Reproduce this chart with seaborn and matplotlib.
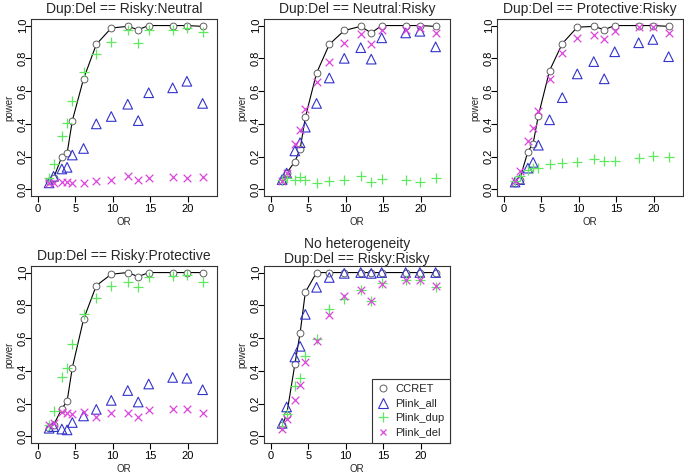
import numpy as np
import pandas as pd
import seaborn as sns
import matplotlib
matplotlib.use("Agg")
import matplotlib.pyplot as plt
from matplotlib.lines import Line2D

# ---------------- data ----------------
OR = [1.5, 2.1, 3.2, 3.9, 4.6, 6.1, 7.8, 9.8, 12.0, 13.4, 14.8, 18.0, 19.9, 22.0]

titles = ["Dup:Del == Risky:Neutral",
          "Dup:Del == Neutral:Risky",
          "Dup:Del == Protective:Risky",
          "Dup:Del == Risky:Protective",
          "No heterogeneity\nDup:Del == Risky:Risky"]

methods = ["CCRET", "Plink_all", "Plink_dup", "Plink_del"]

# Panel 1: Risky:Neutral
ccret_1 = [0.05, 0.07, 0.20, 0.22, 0.42, 0.675, 0.885, 0.985, 0.995, 0.975, 1.0, 1.0, 1.0, 0.995]
all_1   = [0.04, 0.08, 0.125, 0.135, 0.21, 0.25, 0.40, 0.445, 0.52, 0.42, 0.59, 0.62, 0.66, 0.525]
dup_1   = [0.07, 0.155, 0.325, 0.405, 0.54, 0.715, 0.825, 0.90, 0.97, 0.895, 0.97, 0.975, 0.985, 0.96]
del_1   = [0.04, 0.04, 0.045, 0.045, 0.04, 0.04, 0.05, 0.06, 0.085, 0.06, 0.07, 0.075, 0.07, 0.075]

# Panel 2: Neutral:Risky
ccret_2 = [0.05, 0.10, 0.17, 0.245, 0.44, 0.71, 0.885, 0.97, 0.995, 0.955, 1.0, 1.0, 1.0, 0.995]
all_2   = [0.06, 0.10, 0.235, 0.285, 0.38, 0.525, 0.68, 0.80, 0.865, 0.795, 0.925, 0.955, 0.965, 0.87]
dup_2   = [0.06, 0.07, 0.06, 0.075, 0.055, 0.04, 0.05, 0.055, 0.08, 0.045, 0.065, 0.06, 0.045, 0.07]
del_2   = [0.05, 0.10, 0.28, 0.36, 0.49, 0.655, 0.775, 0.895, 0.95, 0.885, 0.975, 0.975, 0.985, 0.955]

# Panel 3: Protective:Risky
ccret_3 = [0.04, 0.06, 0.23, 0.28, 0.45, 0.725, 0.89, 0.99, 0.995, 0.975, 1.0, 1.0, 1.0, 0.995]
all_3   = [0.045, 0.06, 0.13, 0.165, 0.27, 0.425, 0.56, 0.705, 0.78, 0.675, 0.84, 0.895, 0.915, 0.81]
dup_3   = [0.05, 0.08, 0.12, 0.13, 0.13, 0.155, 0.16, 0.165, 0.185, 0.175, 0.175, 0.19, 0.205, 0.20]
del_3   = [0.05, 0.115, 0.295, 0.375, 0.48, 0.675, 0.835, 0.925, 0.945, 0.915, 0.965, 0.99, 0.99, 0.955]

# Panel 4: Risky:Protective
ccret_4 = [0.05, 0.07, 0.17, 0.215, 0.42, 0.715, 0.92, 0.99, 1.0, 0.975, 1.0, 1.0, 1.0, 1.0]
all_4   = [0.05, 0.06, 0.045, 0.04, 0.085, 0.125, 0.165, 0.22, 0.28, 0.21, 0.32, 0.36, 0.355, 0.285]
dup_4   = [0.07, 0.155, 0.365, 0.415, 0.565, 0.75, 0.845, 0.92, 0.94, 0.91, 0.975, 0.98, 0.985, 0.945]
del_4   = [0.07, 0.085, 0.15, 0.14, 0.135, 0.15, 0.12, 0.145, 0.14, 0.12, 0.16, 0.165, 0.17, 0.145]

# Panel 5: Risky:Risky (no heterogeneity)
ccret_5 = [0.07, 0.13, 0.44, 0.63, 0.88, 1.0, 1.0, 1.0, 1.0, 1.0, 1.0, 1.0, 1.0, 1.0]
all_5   = [0.08, 0.18, 0.485, 0.55, 0.745, 0.91, 0.97, 0.995, 1.0, 0.995, 1.0, 1.0, 1.0, 1.0]
dup_5   = [0.065, 0.135, 0.305, 0.355, 0.49, 0.595, 0.78, 0.84, 0.895, 0.825, 0.935, 0.955, 0.955, 0.91]
del_5   = [0.045, 0.105, 0.225, 0.315, 0.455, 0.585, 0.74, 0.86, 0.895, 0.825, 0.93, 0.955, 0.955, 0.915]

panels = [
    (ccret_1, all_1, dup_1, del_1),
    (ccret_2, all_2, dup_2, del_2),
    (ccret_3, all_3, dup_3, del_3),
    (ccret_4, all_4, dup_4, del_4),
    (ccret_5, all_5, dup_5, del_5),
]

rows = []
for p, vals in enumerate(panels):
    for m, v in zip(methods, vals):
        for x, y in zip(OR, v):
            rows.append({"panel": p, "method": m, "OR": x, "power": y})
df = pd.DataFrame(rows)

# ---------------- style ----------------
sns.set_theme(style="ticks")
plt.rcParams["font.family"] = ["Liberation Sans", "DejaVu Sans"]
plt.rcParams["axes.linewidth"] = 0.8

C_GREY = "#606060"
C_BLUE = "#3333cc"
C_GREEN = "#5fe85f"
C_MAG = "#dd44dd"

fig = plt.figure(figsize=(6.84, 4.75), dpi=100)

W, H = 186 / 684, 177 / 475
lefts = [31 / 684, 264 / 684, 497 / 684]
bots = [1 - 196 / 475, 1 - 443 / 475]
pos = [(lefts[0], bots[0]), (lefts[1], bots[0]), (lefts[2], bots[0]),
       (lefts[0], bots[1]), (lefts[1], bots[1])]

for p in range(5):
    ax = fig.add_axes([pos[p][0], pos[p][1], W, H])
    sub = df[df.panel == p]
    cc = sub[sub.method == "CCRET"]
    sns.lineplot(data=cc, x="OR", y="power", ax=ax, color="black",
                 linewidth=0.8, zorder=2, estimator=None)
    sns.scatterplot(data=cc, x="OR", y="power", ax=ax, marker="o", s=24,
                    facecolor="white", edgecolor=C_GREY, linewidth=0.7, zorder=3)
    sns.scatterplot(data=sub[sub.method == "Plink_all"], x="OR", y="power", ax=ax,
                    marker="^", s=48, facecolor="none", edgecolor=C_BLUE,
                    linewidth=0.8, zorder=4)
    sns.scatterplot(data=sub[sub.method == "Plink_dup"], x="OR", y="power", ax=ax,
                    marker="+", s=60, color=C_GREEN, linewidth=0.9, zorder=4)
    sns.scatterplot(data=sub[sub.method == "Plink_del"], x="OR", y="power", ax=ax,
                    marker="x", s=30, color=C_MAG, linewidth=0.9, zorder=4)

    ax.set_xlim(-0.92, 23.92)
    ax.set_ylim(-0.04, 1.04)
    ax.set_xticks([0, 5, 10, 15, 20])
    ax.set_yticks([0.0, 0.2, 0.4, 0.6, 0.8, 1.0])
    ax.set_yticklabels(["0.0", "0.2", "0.4", "0.6", "0.8", "1.0"],
                       rotation=90, va="center", ha="center")
    ax.tick_params(axis="x", labelsize=8, length=4, width=0.8,
                   colors="black", pad=2)
    ax.tick_params(axis="y", labelsize=8, length=4, width=0.8,
                   colors="black", pad=2)
    ax.set_xlabel("OR", fontsize=7, labelpad=2)
    ax.set_ylabel("power", fontsize=7, labelpad=2)
    for s in ax.spines.values():
        s.set_visible(True)
        s.set_color("#333333")
        s.set_linewidth(0.8)
    if p == 4:
        ax.set_title(titles[p], fontsize=10, pad=0, linespacing=1.05)
    else:
        ax.set_title(titles[p], fontsize=10, pad=4)

    if p == 4:
        handles = [
            Line2D([], [], ls="none", marker="o", mfc="white", mec=C_GREY, ms=5, mew=0.7),
            Line2D([], [], ls="none", marker="^", mfc="none", mec=C_BLUE, ms=7, mew=0.8),
            Line2D([], [], ls="none", marker="+", color=C_GREEN, ms=7, mew=0.9),
            Line2D([], [], ls="none", marker="x", color=C_MAG, ms=5, mew=0.9),
        ]
        leg = ax.legend(handles, methods, loc="lower right", fontsize=8,
                        frameon=True, fancybox=False, framealpha=1,
                        edgecolor="#333333", borderaxespad=0,
                        handlelength=1.0, handletextpad=0.6,
                        labelspacing=0.4, borderpad=0.5)
        leg.get_frame().set_linewidth(0.8)

fig.savefig("out.png", dpi=100)
